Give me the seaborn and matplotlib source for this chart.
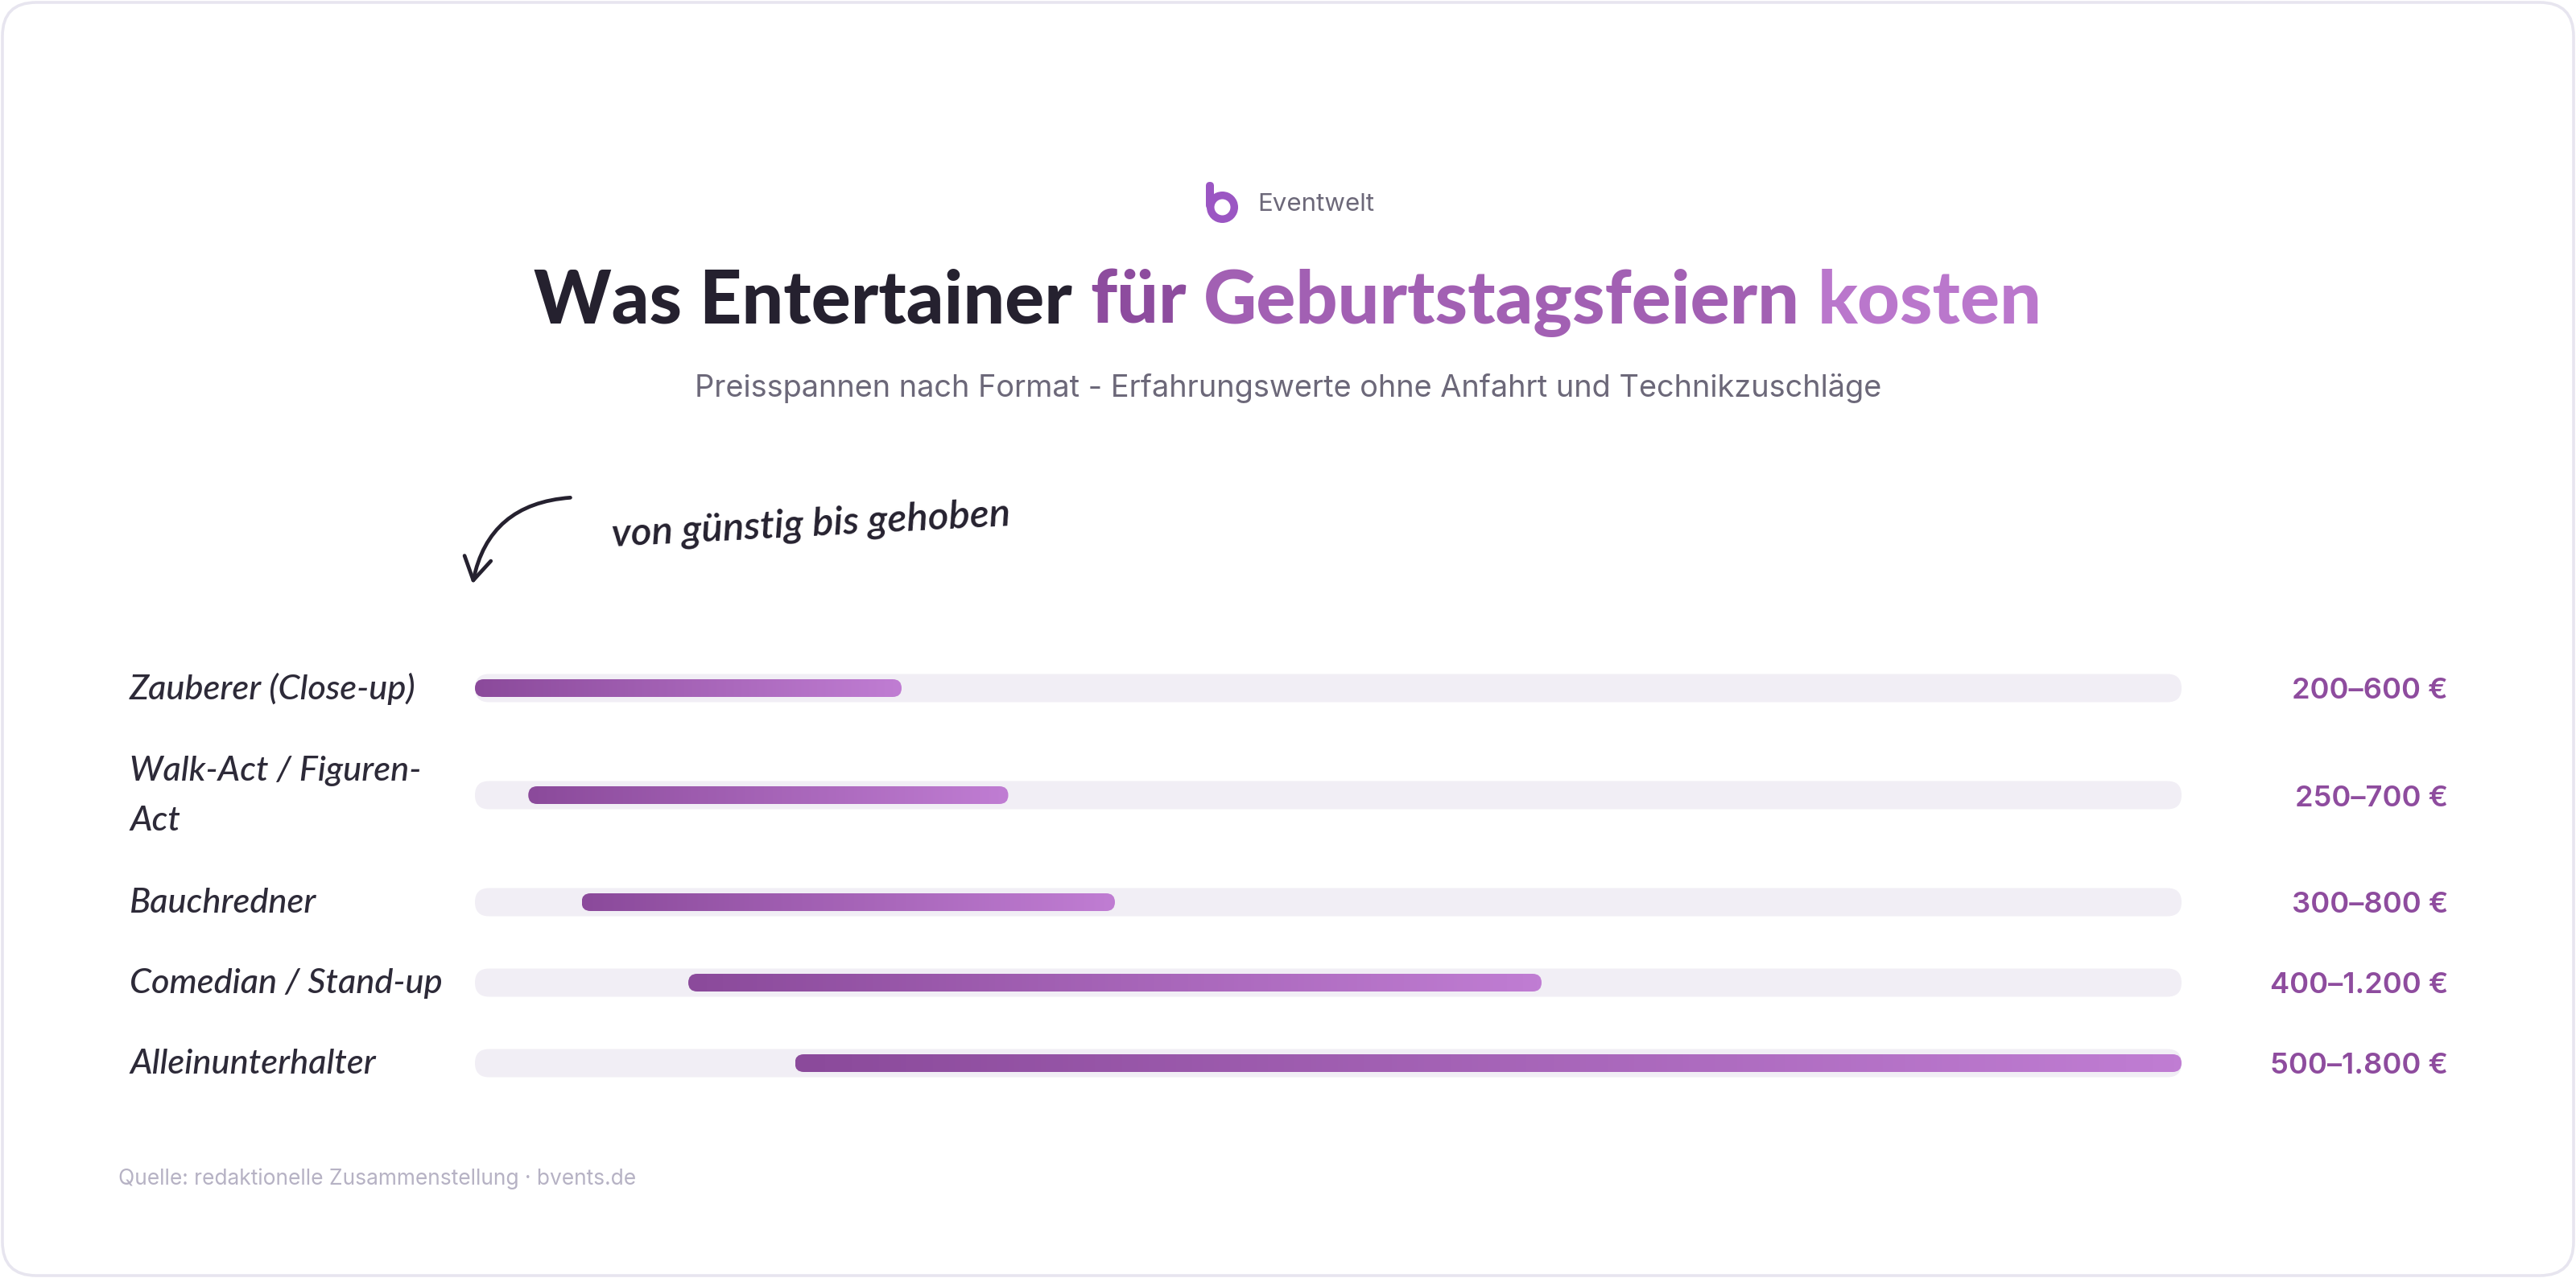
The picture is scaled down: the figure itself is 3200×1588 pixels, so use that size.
import numpy as np
import pandas as pd
import seaborn as sns
import matplotlib
matplotlib.use("Agg")
import matplotlib.pyplot as plt
from matplotlib.patches import FancyBboxPatch, Wedge, FancyArrowPatch, ArrowStyle
from matplotlib.colors import LinearSegmentedColormap

# ---------------- data ----------------
categories = ["Zauberer (Close-up)", "Walk-Act / Figuren-\nAct", "Bauchredner",
              "Comedian / Stand-up", "Alleinunterhalter"]
price_low = [200, 250, 300, 400, 500]
price_high = [600, 700, 800, 1200, 1800]
value_labels = ["200–600 €", "250–700 €", "300–800 €", "400–1.200 €", "500–1.800 €"]
title_dark = "Was Entertainer"
title_accent = "für Geburtstagsfeiern kosten"
subtitle = "Preisspannen nach Format - Erfahrungswerte ohne Anfahrt und Technikzuschläge"
brand = "Eventwelt"
note = "von günstig bis gehoben"
source = "Quelle: redaktionelle Zusammenstellung · bvents.de"

# ---------------- style ----------------
W, H, DPI = 3200, 1588, 200
sns.set_theme(style="white")
plt.rcParams['font.family'] = ['Lato', 'DejaVu Sans']

DARK = "#25212F"
GREY = "#6C6879"
PURPLE = "#8E4C9E"
TRACK = "#F1EEF5"
grad = LinearSegmentedColormap.from_list("g", ["#8B4A9B", "#C07DD3"])

fig = plt.figure(figsize=(W / DPI, H / DPI), dpi=DPI)
fig.patch.set_facecolor("white")
bg = fig.add_axes([0, 0, 1, 1])
bg.set_xlim(0, W)
bg.set_ylim(H, 0)
bg.axis("off")
renderer = fig.canvas.get_renderer()

card = FancyBboxPatch((3, 3), W - 6, H - 6, boxstyle="round,pad=0,rounding_size=42",
                      fc="white", ec="#E7E5EF", lw=1.3, zorder=0)
bg.add_patch(card)


def text_width(s, **kw):
    t = bg.text(0, 0, s, **kw)
    w = t.get_window_extent(renderer).width
    t.remove()
    return w


def fit_size(s, target, base=20, **kw):
    return base * target / text_width(s, fontsize=base, **kw)


# ---------------- logo ----------------
LOGO = "#9B56C3"
bg.add_patch(FancyBboxPatch((1498, 226), 10, 34, boxstyle="round,pad=0,rounding_size=5",
                            fc=LOGO, ec="none", zorder=2))
bg.add_patch(Wedge((1518.5, 257.5), 19.5, 0, 360, width=9.5, fc=LOGO, ec="none", zorder=2))
bkw = dict(family=["Inter", "DejaVu Sans"], weight="normal")
fs_brand = fit_size(brand, 145, **bkw)
bg.text(1562, 262, brand, fontsize=fs_brand, color=GREY, ha="left", va="baseline", **bkw)

# ---------------- title ----------------
full_title = title_dark + " " + title_accent
tkw = dict(weight="black", family=["Lato", "DejaVu Sans"])
fs_title = fit_size(full_title, 1870, **tkw)
tkw["fontsize"] = fs_title
total_w = text_width(full_title, **tkw)
x_left = W / 2 - total_w / 2
title_base = 402

pieces = [(title_dark, 0, DARK)]
start = len(title_dark) + 1
first_word = title_accent.split(" ")[0]
acc_start_px = text_width(full_title[:start + len(first_word)], **tkw) - text_width(first_word, **tkw)
acc_w = total_w - acc_start_px
idx = start
for word in title_accent.split(" "):
    pieces.append((word, idx, None))
    idx += len(word) + 1
for word, i0, col in pieces:
    off = text_width(full_title[:i0 + len(word)], **tkw) - text_width(word, **tkw)
    if col is None:
        wmid = off + text_width(word, **tkw) / 2
        frac = (wmid - acc_start_px) / acc_w
        col = grad(frac)
    bg.text(x_left + off, title_base, word, color=col, ha="left", va="baseline", **tkw)

# ---------------- subtitle ----------------
skw = dict(family=["Inter", "DejaVu Sans"], weight="normal")
fs_sub = fit_size(subtitle, 1478, **skw)
bg.text(W / 2, 493, subtitle, fontsize=fs_sub, color=GREY, ha="center", va="baseline", **skw)

# ---------------- handwritten note + arrow ----------------
nkw = dict(family=["Lato", "DejaVu Sans"], style="italic", weight="semibold")
fs_note = fit_size(note, 496, **nkw)
bg.text(1007, 652, note, fontsize=fs_note, color=DARK, rotation=3, rotation_mode="anchor",
        ha="center", va="center", **nkw)
arrow = FancyArrowPatch(posA=(714, 618), posB=(586, 731), connectionstyle="arc3,rad=0.4",
                        arrowstyle=ArrowStyle("->", head_length=0.5, head_width=0.3),
                        mutation_scale=20, lw=1.7, color=DARK, zorder=3)
bg.add_patch(arrow)

# ---------------- row layout ----------------
n_lines = [c.count("\n") + 1 for c in categories]
ypos = []
y = 855.0
for i, n in enumerate(n_lines):
    if i > 0:
        y += 100 + 33 * (n_lines[i - 1] - 1) + 33 * (n - 1)
    ypos.append(y)

# labels (left column)
lkw = dict(family=["Lato", "DejaVu Sans"], style="italic", weight="medium")
fs_lab = fit_size(categories[0], 355, **lkw)
for lab, yy in zip(categories, ypos):
    bg.text(161, yy + 1, lab, fontsize=fs_lab, color="#2D2A38", ha="left", va="center",
            linespacing=1.75, **lkw)

# value labels (right column)
vkw = dict(family=["Inter", "DejaVu Sans"], weight="semibold")
fs_val = fit_size(value_labels[0], 193, **vkw)
for lab, yy in zip(value_labels, ypos):
    bg.text(3041, yy + 4, lab, fontsize=fs_val, color=PURPLE, ha="right", va="center", **vkw)

# footer
fkw = dict(family=["Inter", "DejaVu Sans"], weight="normal")
fs_foot = fit_size(source, 645, **fkw)
bg.text(147, 1465, source, fontsize=fs_foot, color="#B6B2C4", ha="left", va="center", **fkw)

# ---------------- bars ----------------
x_min, x_max = min(price_low), max(price_high)
ax_left, ax_right = 590, 2710
Y0, Y1 = 800, 1380
ax = fig.add_axes([ax_left / W, 1 - Y1 / H, (ax_right - ax_left) / W, (Y1 - Y0) / H])
ax.patch.set_alpha(0)

df = pd.DataFrame({"category": categories, "low": price_low, "high": price_high, "y": ypos,
                   "track": [x_max] * len(categories)})

sns.barplot(data=df, x="track", y="y", orient="h", native_scale=True, width=0.35,
            color=TRACK, errorbar=None, ax=ax)
n_track = len(ax.patches)
sns.barplot(data=df, x="high", y="y", orient="h", native_scale=True, width=0.22,
            color=PURPLE, errorbar=None, ax=ax)
ax.set_xlim(x_min, x_max)
ax.set_ylim(Y1, Y0)

px_per_x = (ax_right - ax_left) / (x_max - x_min)
rects = list(ax.patches)
track_rects, bar_rects = rects[:n_track], rects[n_track:]


def row_index(rect):
    yc = rect.get_y() + rect.get_height() / 2
    return int(np.argmin([abs(yc - v) for v in ypos]))


for r in track_rects:
    h = r.get_height()
    rad_px = h / 2
    p = FancyBboxPatch((x_min, r.get_y()), x_max - x_min, h,
                       boxstyle=f"round,pad=0,rounding_size={rad_px / px_per_x}",
                       mutation_aspect=px_per_x, fc=TRACK, ec="none", zorder=1)
    r.remove()
    ax.add_patch(p)

for r in bar_rects:
    i = row_index(r)
    h = r.get_height()
    lo, hi = df["low"][i], df["high"][i]
    rad_px = h / 2
    p = FancyBboxPatch((lo, r.get_y()), hi - lo, h,
                       boxstyle=f"round,pad=0,rounding_size={rad_px / px_per_x}",
                       mutation_aspect=px_per_x, fc="none", ec="none", zorder=2)
    r.remove()
    ax.add_patch(p)
    im = ax.imshow(np.linspace(0, 1, 256).reshape(1, -1), cmap=grad, aspect="auto",
                   extent=[lo, hi, r.get_y() + h, r.get_y()], zorder=2, interpolation="bilinear")
    im.set_clip_path(p)

ax.set_xlim(x_min, x_max)
ax.set_ylim(Y1, Y0)
ax.axis("off")

fig.savefig("out.png", dpi=DPI, facecolor="white")
